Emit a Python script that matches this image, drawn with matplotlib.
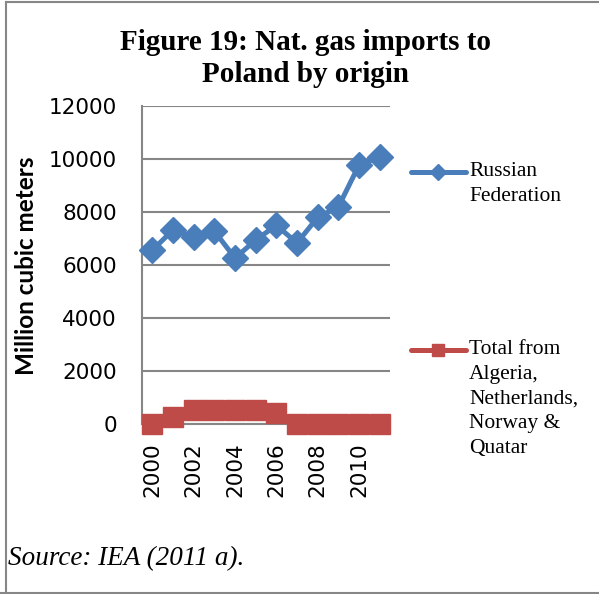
import numpy as np
import matplotlib
matplotlib.use('Agg')
import matplotlib.pyplot as plt
from matplotlib.lines import Line2D

# datos (millones de m3)
anios = [2000, 2001, 2002, 2003, 2004, 2005, 2006, 2007, 2008, 2009, 2010, 2011]
rusia = [6560, 7320, 7050, 7280, 6260, 6940, 7500, 6830, 7800, 8190, 9770, 10080]
otros = [0, 280, 530, 530, 520, 530, 400, 0, 0, 0, 0, 0]
yticks = [0, 2000, 4000, 6000, 8000, 10000, 12000]
xlabels = ['2000', '', '2002', '', '2004', '', '2006', '', '2008', '', '2010', '']

azul = '#4A7EBB'
rojo = '#BE4B48'
gris = '#868686'

W, H = 599, 594
fig = plt.figure(figsize=(W/100, H/100), dpi=100)

#%% ejes: caja del grafico en pixeles
x0, x1, ytop, ybot = 142, 390, 106, 424
ax = fig.add_axes([x0/W, 1 - ybot/H, (x1-x0)/W, (ybot-ytop)/H])

x = np.arange(len(anios))
ax.plot(x, otros, '-s', color=rojo, lw=3.6, ms=14, clip_on=False, zorder=3)
ax.plot(x, rusia, '-D', color=azul, lw=3.6, ms=13, clip_on=False, zorder=4)

ax.set_xlim(-0.5, len(anios) - 0.5)
ax.set_ylim(0, 12000)
ax.set_yticks(yticks)
ax.set_yticklabels([str(v) for v in yticks], fontsize=15.5, family='DejaVu Sans')
ax.set_xticks(x)
ax.set_xticklabels(xlabels, rotation=90, fontsize=15.5, family='DejaVu Sans')
ax.tick_params(axis='y', length=0, pad=18)
ax.tick_params(axis='x', length=0, pad=13)
ax.grid(axis='y', color=gris, lw=1.5)
ax.set_axisbelow(True)
for s in ['top', 'right']:
    ax.spines[s].set_visible(False)
for s in ['left', 'bottom']:
    ax.spines[s].set_color(gris)
    ax.spines[s].set_linewidth(1.5)

fig.text(27/W, 1 - 266/H, 'Million cubic meters', rotation=90, ha='center', va='center',
         fontsize=17.5, fontweight='bold', family='Lato')

#%% titulo
fig.text(305/W, 1 - 42/H, 'Figure 19: Nat. gas imports to', ha='center', va='center',
         fontsize=21, fontweight='bold', family='Liberation Serif')
fig.text(305/W, 1 - 75/H, 'Poland by origin', ha='center', va='center',
         fontsize=21, fontweight='bold', family='Liberation Serif')

#%% leyenda hecha a mano (el marcador va alineado con la primera linea)
def entrada(yc, color, marker, ms, lineas):
    fig.add_artist(Line2D([411/W, 466/W], [1 - yc/H, 1 - yc/H], color=color, lw=3.6,
                          solid_capstyle='round'))
    fig.add_artist(Line2D([438/W], [1 - yc/H], color=color, marker=marker, ms=ms, lw=0))
    for i, t in enumerate(lineas):
        fig.text(469/W, 1 - (yc + 24.5*i)/H, t, ha='left', va='center',
                 fontsize=15.5, family='Liberation Serif')

entrada(172, azul, 'D', 8, ['Russian', 'Federation'])
entrada(350, rojo, 's', 9, ['Total from', 'Algeria,', 'Netherlands,', 'Norway &', 'Quatar'])

#%% fuente y marco
fig.text(8/W, 1 - 559/H, 'Source: IEA (2011 a).', ha='left', va='center',
         fontsize=19.5, style='italic', family='Liberation Serif')
fig.add_artist(Line2D([6/W, 6/W], [1 - 2/H, 1 - 593/H], color=gris, lw=1.5))
fig.add_artist(Line2D([6/W, 1], [1 - 2/H, 1 - 2/H], color=gris, lw=1.5))
fig.add_artist(Line2D([0, 1], [1 - 592.5/H, 1 - 592.5/H], color=gris, lw=1.5))

plt.savefig('out.png', dpi=100)
